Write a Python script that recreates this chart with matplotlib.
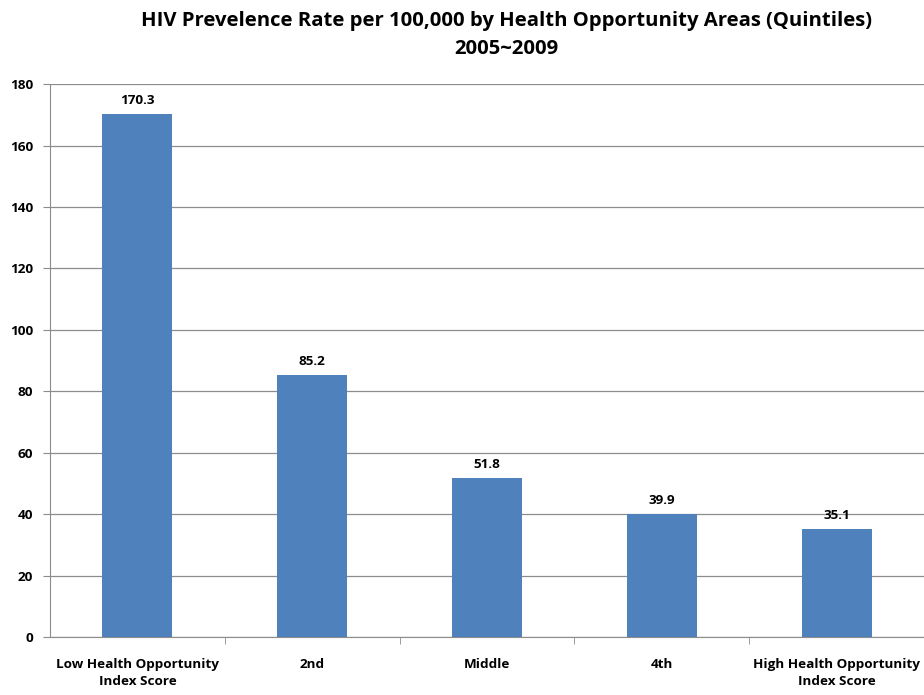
import matplotlib
matplotlib.use("Agg")
import matplotlib.pyplot as plt
from matplotlib.ticker import FixedLocator, NullFormatter

plt.rcParams['font.family'] = ['Open Sans', 'DejaVu Sans']

categories = ["Low Health Opportunity\nIndex Score", "2nd", "Middle", "4th",
              "High Health Opportunity\nIndex Score"]
rates = [170.3, 85.2, 51.8, 39.9, 35.1]
yticks = [0, 20, 40, 60, 80, 100, 120, 140, 160, 180]

bar_color = "#4F81BD"
grid_color = "#8C8C8C"
label_size = 9.7

fig = plt.figure(figsize=(9.24, 6.95), dpi=100)
ax = fig.add_axes([0.0541, 0.0835, 0.9459, 0.7955])

x = list(range(len(categories)))
ax.bar(x, rates, width=0.4, color=bar_color, zorder=3)

for xi, v in zip(x, rates):
    ax.annotate(f"{v:.1f}", (xi, v), xytext=(0, 5), textcoords="offset points",
                ha="center", va="bottom", fontsize=label_size, fontweight="bold")

ax.set_xlim(-0.5, len(categories) - 0.5)
ax.set_ylim(0, 180)
ax.set_yticks(yticks)
ax.set_yticklabels([str(t) for t in yticks], fontsize=label_size, fontweight="bold")
ax.yaxis.grid(True, color=grid_color, linewidth=0.9, zorder=0)
ax.set_axisbelow(True)

ax.set_xticks(x)
ax.set_xticklabels(categories, fontsize=label_size, fontweight="bold", linespacing=1.4)
ax.tick_params(axis="x", which="major", length=0, pad=15)
ax.xaxis.set_minor_locator(FixedLocator([i + 0.5 for i in range(len(categories) - 1)]))
ax.xaxis.set_minor_formatter(NullFormatter())
ax.tick_params(axis="x", which="minor", length=5, color=grid_color, direction="out")
ax.tick_params(axis="y", length=5, color=grid_color, pad=7)

for side in ("top", "right"):
    ax.spines[side].set_visible(False)
ax.spines["left"].set_color(grid_color)
ax.spines["bottom"].set_color(grid_color)

fig.text(0.5485, 0.970, "HIV Prevelence Rate per 100,000 by Health Opportunity Areas (Quintiles)",
         ha="center", va="center", fontsize=14.6, fontweight="bold")
fig.text(0.5485, 0.930, "2005~2009", ha="center", va="center", fontsize=14.6, fontweight="bold")

fig.savefig("out.png", dpi=100)
